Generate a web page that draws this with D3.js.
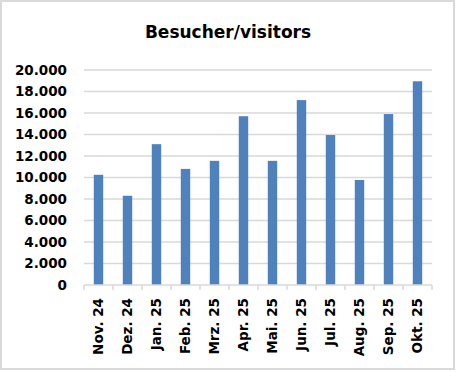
<!DOCTYPE html>
<html><head><meta charset="utf-8">
<script src="https://cdn.jsdelivr.net/npm/d3@7"></script>
<style>body{margin:0;background:#fff}svg{display:block}</style>
</head><body>
<script>
const categories = ["Nov. 24","Dez. 24","Jan. 25","Feb. 25","Mrz. 25","Apr. 25","Mai. 25","Jun. 25","Jul. 25","Aug. 25","Sep. 25","Okt. 25"];
const visitors = [10250,8300,13100,10800,11550,15700,11550,17200,13950,9770,15900,18950];
const yTicks = [0,2000,4000,6000,8000,10000,12000,14000,16000,18000,20000];
const title = "Besucher/visitors";

(function(){
const W = 456, H = 372;
const pL = 84, pR = 432, pT = 70, pB = 285;
const font = "'DejaVu Sans', sans-serif";

const svg = d3.select("body").append("svg").attr("width", W).attr("height", H);
svg.append("rect").attr("x",1).attr("y",1).attr("width",W-3).attr("height",H-4)
  .attr("fill","#fff").attr("stroke","#d9d9d9").attr("stroke-width",2);

const x = d3.scaleBand().domain(categories).range([pL,pR]).paddingInner(0.675).paddingOuter(0.3375);
const y = d3.scaleLinear().domain([0,20000]).range([pB,pT]);

const fmt = d => d3.format(",")(d).replace(/,/g,".");

svg.append("g").selectAll("line").data(yTicks.filter(d=>d>0)).join("line")
  .attr("x1",pL).attr("x2",pR).attr("y1",d=>y(d)).attr("y2",d=>y(d))
  .attr("stroke","#d9d9d9").attr("stroke-width",1.5);

svg.append("g").selectAll("text").data(yTicks).join("text")
  .attr("x",67).attr("y",d=>y(d)).attr("dy","0.36em").attr("text-anchor","end")
  .attr("font-family",font).attr("font-weight","bold").attr("font-size",13.5).attr("fill","#000")
  .text(fmt);

svg.append("g").selectAll("rect").data(visitors).join("rect")
  .attr("x",(d,i)=>x(categories[i])).attr("width",x.bandwidth())
  .attr("y",d=>y(d)).attr("height",d=>pB-y(d)).attr("fill","#4f81bd");

const gx = svg.append("g").attr("transform",`translate(0,${pB})`);
gx.append("line").attr("x1",pL).attr("x2",pR).attr("stroke","#d9d9d9").attr("stroke-width",1.5);
const bounds = d3.range(categories.length+1).map(i => pL + i*(pR-pL)/categories.length);
gx.selectAll("line.t").data(bounds).join("line").attr("class","t")
  .attr("x1",d=>d).attr("x2",d=>d).attr("y1",0).attr("y2",5)
  .attr("stroke","#d9d9d9").attr("stroke-width",1.5);

svg.append("g").selectAll("text").data(categories).join("text")
  .attr("transform",d=>`translate(${x(d)+x.bandwidth()/2},298) rotate(-90)`)
  .attr("text-anchor","end").attr("dy","0.36em")
  .attr("font-family",font).attr("font-weight","bold").attr("font-size",13.5).attr("fill","#000")
  .text(d=>d);

svg.append("text").attr("x",228).attr("y",38).attr("text-anchor","middle")
  .attr("font-family",font).attr("font-weight","bold").attr("font-size",17).attr("fill","#000")
  .text(title);
})();
</script>
</body></html>
